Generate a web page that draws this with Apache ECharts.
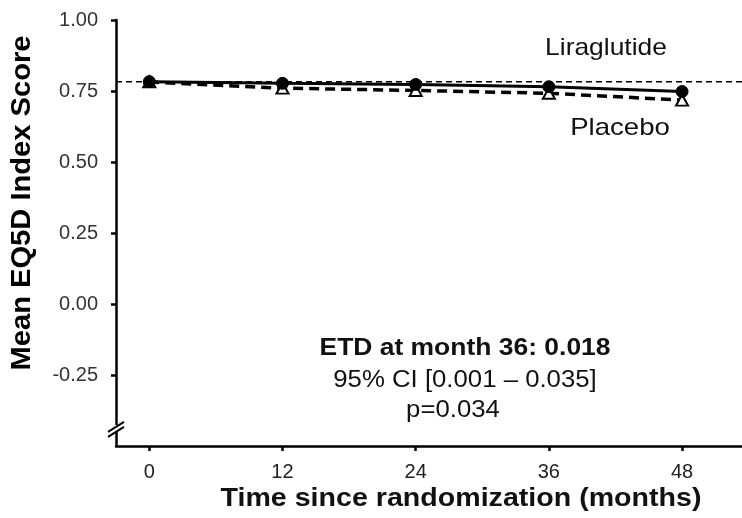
<!DOCTYPE html>
<html>
<head>
<meta charset="utf-8">
<script src="https://cdn.jsdelivr.net/npm/echarts@6/dist/echarts.min.js"></script>
<style>
html,body{margin:0;padding:0;background:#fff;}
#main{width:742px;height:518px;}
</style>
</head>
<body>
<div id="main"></div>
<script>
const months = [0, 12, 24, 36, 48];
const liraglutide = [0.783, 0.777, 0.773, 0.765, 0.748];
const placebo = [0.782, 0.760, 0.752, 0.742, 0.718];
const referenceLevel = 0.783;
const yTicks = [-0.25, 0, 0.25, 0.5, 0.75, 1.0];
const xTicks = [0, 12, 24, 36, 48];

const FONT = 'Liberation Sans, Arial, sans-serif';
const chart = echarts.init(document.getElementById('main'), null, {renderer: 'canvas'});

const option = {
  animation: false,
  backgroundColor: '#fff',
  grid: {left: 116, right: 0, top: 20, bottom: 72, containLabel: false},
  xAxis: {
    type: 'value', min: -3, max: 53.4,
    axisLine: {onZero: false, lineStyle: {color: '#000', width: 2.5}},
    axisTick: {show: true, length: 5, customValues: xTicks, lineStyle: {color: '#000', width: 2.5}},
    axisLabel: {customValues: xTicks, color: '#222', fontFamily: FONT, fontSize: 20, margin: 16},
    splitLine: {show: false}
  },
  yAxis: {
    type: 'value', min: -0.5, max: 1.0,
    axisLine: {show: true, onZero: false, lineStyle: {color: '#000', width: 2.5}},
    axisTick: {show: true, length: 5, customValues: yTicks, lineStyle: {color: '#000', width: 2.5}},
    axisLabel: {customValues: yTicks, color: '#333', fontFamily: FONT, fontSize: 20, margin: 18,
      formatter: v => v.toFixed(2)},
    splitLine: {show: false}
  },
  series: [
    {
      name: 'Reference', type: 'line', data: [[-3, referenceLevel], [53.4, referenceLevel]],
      symbol: 'none', silent: true, z: 1,
      lineStyle: {color: '#000', width: 1.5, type: [6, 4]}
    },
    {
      name: 'Placebo', type: 'line', data: months.map((m, i) => [m, placebo[i]]),
      symbol: 'triangle', symbolSize: [12, 11], z: 3,
      itemStyle: {color: '#fff', borderColor: '#000', borderWidth: 2},
      lineStyle: {color: '#000', width: 3.5, type: [10, 6]}
    },
    {
      name: 'Liraglutide', type: 'line', data: months.map((m, i) => [m, liraglutide[i]]),
      symbol: 'circle', symbolSize: 12, z: 4,
      itemStyle: {color: '#000', borderColor: '#000'},
      lineStyle: {color: '#000', width: 3}
    }
  ]
};
chart.setOption(option);

function txt(str, x, y, font, sx, extra) {
  return Object.assign({
    type: 'text', x: x, y: y, scaleX: sx, scaleY: 1,
    style: {text: str, font: font, fill: '#111', align: 'center', verticalAlign: 'middle'}
  }, extra || {});
}
const yBreak = chart.convertToPixel({gridIndex: 0}, [-3, -0.44]);
const g = [
  txt('Liraglutide', 606, 48, '24px ' + FONT, 1.1),
  txt('Placebo', 620, 128, '24px ' + FONT, 1.15),
  txt('ETD at month 36: 0.018', 465, 349, 'bold 23px ' + FONT, 1.15),
  txt('95% CI [0.001 \u2013 0.035]', 465, 381, '23px ' + FONT, 1.12),
  txt('p=0.034', 453, 411, '23px ' + FONT, 1.12),
  txt('Time since randomization (months)', 461, 499, 'bold 26px ' + FONT, 1.1),
  {type: 'text', x: 22, y: 203, rotation: Math.PI / 2, scaleX: 1.04,
    style: {text: 'Mean EQ5D Index Score', font: 'bold 28px ' + FONT, fill: '#000', align: 'center', verticalAlign: 'middle'}},
  {type: 'rect', shape: {x: yBreak[0] - 3, y: yBreak[1] - 4, width: 6, height: 6}, style: {fill: '#fff'}, z: 100},
  {type: 'line', shape: {x1: yBreak[0] - 8, y1: yBreak[1] + 3, x2: yBreak[0] + 8, y2: yBreak[1] - 7}, style: {stroke: '#000', lineWidth: 2}, z: 101},
  {type: 'line', shape: {x1: yBreak[0] - 8, y1: yBreak[1] + 8, x2: yBreak[0] + 8, y2: yBreak[1] - 2}, style: {stroke: '#000', lineWidth: 2}, z: 101}
];
chart.setOption({graphic: g});
</script>
</body>
</html>
